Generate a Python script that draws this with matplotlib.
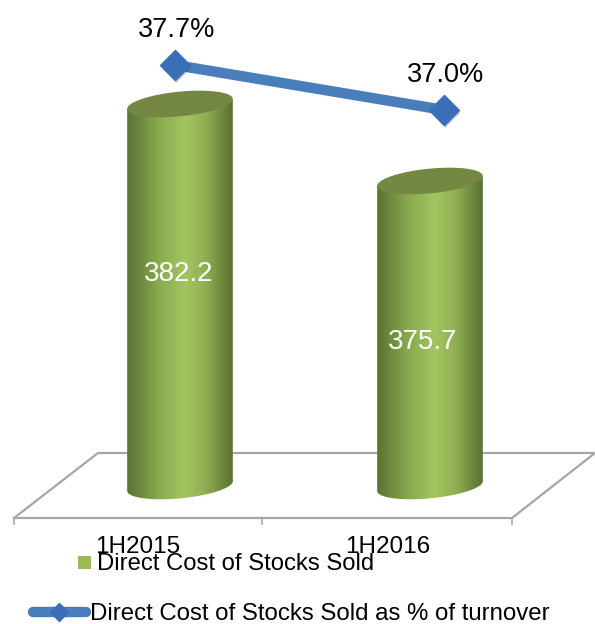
import numpy as np
import matplotlib
matplotlib.use("Agg")
import matplotlib.pyplot as plt
import matplotlib.patheffects as pe
from matplotlib.colors import LinearSegmentedColormap
from matplotlib.patches import Polygon, Rectangle
from matplotlib.lines import Line2D

categories = ["1H2015", "1H2016"]
cost_values = [382.2, 375.7]
pct_values = [37.7, 37.0]
legend_bar = "Direct Cost of Stocks Sold"
legend_line = "Direct Cost of Stocks Sold as % of turnover"

W, H = 595, 624
plt.rcParams["font.family"] = ["Liberation Sans", "DejaVu Sans"]

fig = plt.figure(figsize=(W / 100, H / 100), dpi=100)

# bars: 250 px per category, truncated value axis
PX_X = 250.0
PX_Y = 11.85
base = 349.96
ax = fig.add_axes([0, 0, 1, 1])
ax.set_xlim(-180 / PX_X, (W - 180) / PX_X)
ax.set_ylim(base - (H - 486) / PX_Y, base + 486 / PX_Y)
ax.axis("off")

# line has its own scales
ax2 = fig.add_axes([0, 0, 1, 1])
ax2.set_xlim(-175 / 269.0, (W - 175) / 269.0)
ax2.set_ylim(37.7 - (H - 65) / 64.3, 37.7 + 65 / 64.3)
ax2.axis("off")


def fpx(x, y):
    return x / W, 1 - y / H


def pxline(points, **kw):
    xs, ys = zip(*[fpx(*p) for p in points])
    ax.add_line(Line2D(xs, ys, transform=ax.transAxes, **kw))


# floor of the 3d chart
pxline([(14, 518), (98, 453), (595, 453)], color="#a6a6a6", lw=1.6, zorder=1)
pxline([(14, 518), (512, 518), (595, 453)], color="#a6a6a6", lw=1.6, zorder=1)
for tx in [14, 262, 512]:
    pxline([(tx, 518), (tx, 524)], color="#a6a6a6", lw=1.2, zorder=1)

cyl = LinearSegmentedColormap.from_list(
    "cyl", [(0, "#5a7232"), (0.3, "#8aaa50"), (0.55, "#a3c560"), (0.75, "#8fae52"), (1, "#587030")])
grad = np.linspace(0, 1, 256).reshape(1, -1)

half_w = 53.0
b = 12.5
tilt = np.deg2rad(5)
t = np.linspace(0, 2 * np.pi, 361)


def ellipse(cx, v):
    dx = half_w * np.cos(t) * np.cos(tilt) + b * np.sin(t) * np.sin(tilt)
    dy = half_w * np.cos(t) * np.sin(tilt) + b * np.sin(t) * np.cos(tilt)
    return cx + dx / PX_X, v + dy / PX_Y


label_y = [274, 342]
label_dx = [-1, -7]
for i, val in enumerate(cost_values):
    ex, ey = ellipse(i, val)
    bx, by = ellipse(i, base)
    # side walls run between the tips of the two ellipses
    tl, tr = np.argmin(ex), np.argmax(ex)
    bl, br = np.argmin(bx), np.argmax(bx)
    # lower arc of the bottom ellipse, left tip to right tip
    arc = np.arange(bl, br + 361) % 361
    arc = arc[: (br - bl) % 361 + 1]
    if by[arc].mean() > by[[bl, br]].mean():
        arc = (bl - np.arange((bl - br) % 361 + 1)) % 361
    outline = np.column_stack([np.r_[bx[arc], ex[tr], ex[tl]], np.r_[by[arc], ey[tr], ey[tl]]])
    im = ax.imshow(grad, extent=(bx[bl], bx[br], base - 20 / PX_Y, val + 20 / PX_Y), aspect="auto",
                   cmap=cyl, zorder=2, interpolation="bilinear")
    im.set_clip_path(Polygon(outline, closed=True, transform=ax.transData))
    ax.fill(ex, ey, color="#748843", zorder=3, lw=0)
    ax.text(i + label_dx[i] / PX_X, base + (486 - label_y[i]) / PX_Y, "%.1f" % val, color="white",
            fontsize=20, ha="center", va="center", zorder=5)

ax2.plot(range(len(pct_values)), pct_values, color="#4a7ebb", lw=7.5, marker="D", ms=15,
         mfc="#3a6fb7", mec="#3a6fb7", solid_capstyle="butt", zorder=6,
         path_effects=[pe.SimplePatchShadow(offset=(1, -2), alpha=0.25), pe.Normal()])
for i, val in enumerate(pct_values):
    ax2.annotate("%.1f%%" % val, (i, val), xytext=(1, 25.5), textcoords="offset points",
                 fontsize=19.5, ha="center", va="center", color="black", zorder=7)

for i, c in enumerate(categories):
    ax.text(*fpx(138 + 250 * i, 547), c, transform=ax.transAxes, fontsize=17.5, ha="center", va="center", color="black")

# legend placed by hand, overlaps the tick labels like the original
ax.add_patch(Rectangle(fpx(78, 569), 13 / W, 13 / H, transform=ax.transAxes, color="#9bbb59", lw=0))
ax.text(*fpx(97, 564), legend_bar, transform=ax.transAxes, fontsize=17.2, ha="left", va="center", color="black")
pxline([(33, 612), (86, 612)], color="#4a7ebb", lw=7.5, solid_capstyle="round")
pxline([(59, 612)], marker="D", ms=9, mfc="#3a6fb7", mec="#3a6fb7")
ax.text(*fpx(90, 614), legend_line, transform=ax.transAxes, fontsize=17.3, ha="left", va="center", color="black")

fig.savefig("out.png", dpi=100)
